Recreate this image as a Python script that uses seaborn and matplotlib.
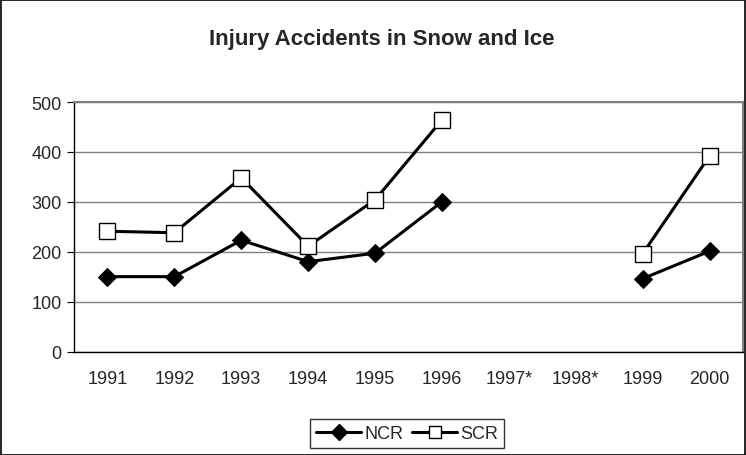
import numpy as np
import pandas as pd
import seaborn as sns
import matplotlib.pyplot as plt
from matplotlib.lines import Line2D
from matplotlib.patches import Rectangle

years = ["1991", "1992", "1993", "1994", "1995", "1996", "1997*", "1998*", "1999", "2000"]
ncr = [150, 150, 223, 180, 197, 300, np.nan, np.nan, 146, 201]
scr = [241, 238, 348, 211, 304, 464, np.nan, np.nan, 196, 392]

sns.set_style("white")
plt.rcParams["font.family"] = ["Liberation Sans", "DejaVu Sans"]

# long table; split runs at missing years so the gap stays open
rows = []
for name, vals in [("NCR", ncr), ("SCR", scr)]:
    seg = 0
    for i, v in enumerate(vals):
        if np.isnan(v):
            seg += 1
            continue
        rows.append({"series": name, "pos": i, "value": v, "seg": seg})
data = pd.DataFrame(rows)

fig = plt.figure(figsize=(7.46, 4.56), dpi=100)
ax = fig.add_axes([74 / 746, 1 - 352.5 / 456, (743 - 74) / 746, (352.5 - 103) / 456])

sns.lineplot(data=data[data.series == "NCR"], x="pos", y="value", units="seg", estimator=None,
             color="black", lw=2.2, marker="D", ms=9, mfc="black", mec="black", ax=ax, legend=False)
sns.lineplot(data=data[data.series == "SCR"], x="pos", y="value", units="seg", estimator=None,
             color="black", lw=2.2, marker="s", ms=11, mfc="white", mec="black", mew=1, ax=ax, legend=False)

ax.set_xlim(-0.5, 9.5)
ax.set_ylim(0, 500)
ax.set_yticks(range(0, 501, 100))
ax.set_xticks(range(len(years)))
ax.set_xticklabels(years)
ax.set_xticks(np.arange(-0.5, 10, 1), minor=True)
ax.tick_params(axis="x", which="major", length=0, pad=13, labelsize=13)
ax.tick_params(axis="x", which="minor", length=5, direction="out", color="black")
ax.tick_params(axis="y", length=5, direction="out", color="black", labelsize=13, left=True, pad=4)
ax.set_xlabel("")
ax.set_ylabel("")
ax.yaxis.grid(True, color="#808080", lw=1)
for s in ["top", "right"]:
    ax.spines[s].set_color("#808080")
    ax.spines[s].set_linewidth(1.5)
for s in ["left", "bottom"]:
    ax.spines[s].set_color("black")
    ax.spines[s].set_linewidth(1)

fig.text(382 / 746, 1 - 45.5 / 456, "Injury Accidents in Snow and Ice",
         ha="center", va="baseline", fontsize=16, fontweight="bold")

handles = [
    Line2D([], [], color="black", lw=2.2, marker="D", ms=8, mfc="black"),
    Line2D([], [], color="black", lw=2.2, marker="s", ms=9, mfc="white", mew=1),
]
leg = fig.legend(handles, ["NCR", "SCR"], loc="center", bbox_to_anchor=(407 / 746, 1 - 434.5 / 456),
                 ncol=2, frameon=True, fancybox=False, edgecolor="black", fontsize=13,
                 handlelength=2.5, handletextpad=0.15, columnspacing=0.5, borderpad=0.35)
leg.get_frame().set_linewidth(1)

fig.patches.append(Rectangle((0.001, 0.001), 0.998, 0.997, transform=fig.transFigure,
                             fill=False, edgecolor="black", lw=1.2))

fig.savefig("out.png", dpi=100)
